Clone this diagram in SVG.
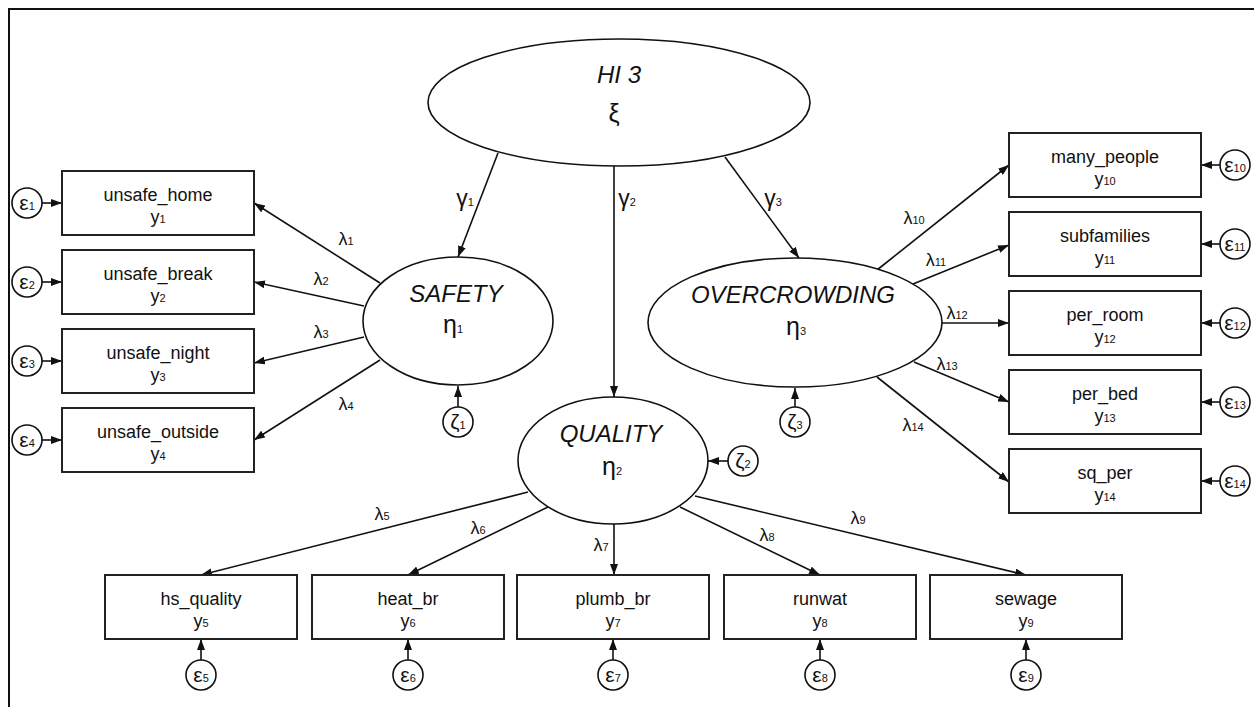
<svg xmlns="http://www.w3.org/2000/svg" width="1254" height="707" viewBox="0 0 1254 707">
<style>
text{font-family:"Liberation Sans",Arial,sans-serif;fill:#111;text-anchor:middle}
.box{fill:#fff;stroke:#222;stroke-width:2}
.lat{fill:#fff;stroke:#111;stroke-width:1.6}
.err{fill:#fff;stroke:#111;stroke-width:1.6}
.nm{font-size:18px}
.sy{font-size:18px}
.sub{font-size:11px}
.big{font-size:24px;font-style:italic}
.gr{font-size:25px}
.lam{font-size:18px}
.gam{font-size:23px}
.eps{font-size:21px}
#conn line{stroke:#111;stroke-width:1.6;marker-end:url(#ah)}
</style>
<defs>
<marker id="ah" markerUnits="userSpaceOnUse" markerWidth="12" markerHeight="8" refX="11" refY="4" orient="auto">
<path d="M0,0 L11,4 L0,8 Z" fill="#111"/>
</marker>
</defs>
<rect width="1254" height="707" fill="#fff"/>
<path d="M9,707 V9 H1254" fill="none" stroke="#111" stroke-width="2"/>

<g id="conn">
<line x1="498" y1="153" x2="458" y2="257"/>
<line x1="614" y1="166" x2="614" y2="397"/>
<line x1="725" y1="157" x2="799" y2="258"/>
<line x1="380" y1="283" x2="254" y2="203"/>
<line x1="364" y1="306" x2="254" y2="282"/>
<line x1="364" y1="337" x2="254" y2="363"/>
<line x1="380" y1="360" x2="254" y2="440"/>
<line x1="528" y1="492" x2="201" y2="575"/>
<line x1="548" y1="507" x2="408" y2="575"/>
<line x1="614" y1="524" x2="614" y2="575"/>
<line x1="680" y1="507" x2="820" y2="575"/>
<line x1="695" y1="496" x2="1026" y2="575"/>
<line x1="877" y1="270" x2="1009" y2="165"/>
<line x1="913" y1="284" x2="1009" y2="245"/>
<line x1="942" y1="323" x2="1009" y2="323"/>
<line x1="914" y1="362" x2="1009" y2="402"/>
<line x1="877" y1="377" x2="1009" y2="482"/>
<line x1="42" y1="203" x2="62" y2="203"/>
<line x1="42" y1="282" x2="62" y2="282"/>
<line x1="42" y1="361" x2="62" y2="361"/>
<line x1="42" y1="440" x2="62" y2="440"/>
<line x1="1220" y1="165" x2="1201" y2="165"/>
<line x1="1220" y1="244" x2="1201" y2="244"/>
<line x1="1220" y1="323" x2="1201" y2="323"/>
<line x1="1220" y1="402" x2="1201" y2="402"/>
<line x1="1220" y1="481" x2="1201" y2="481"/>
<line x1="201" y1="660" x2="201" y2="639"/>
<line x1="408" y1="660" x2="408" y2="639"/>
<line x1="613" y1="660" x2="613" y2="639"/>
<line x1="820" y1="660" x2="820" y2="639"/>
<line x1="1026" y1="660" x2="1026" y2="639"/>
<line x1="458" y1="407" x2="458" y2="386"/>
<line x1="795" y1="407" x2="795" y2="388"/>
<line x1="728" y1="461" x2="708" y2="461"/>
</g>

<g id="labels">
<text class="gam" x="465" y="206">γ<tspan class="sub">1</tspan></text>
<text class="gam" x="627" y="206">γ<tspan class="sub">2</tspan></text>
<text class="gam" x="773" y="206">γ<tspan class="sub">3</tspan></text>
<text class="lam" x="346" y="245">λ<tspan class="sub">1</tspan></text>
<text class="lam" x="321" y="285">λ<tspan class="sub">2</tspan></text>
<text class="lam" x="321" y="338">λ<tspan class="sub">3</tspan></text>
<text class="lam" x="346" y="410">λ<tspan class="sub">4</tspan></text>
<text class="lam" x="382" y="520">λ<tspan class="sub">5</tspan></text>
<text class="lam" x="478" y="534">λ<tspan class="sub">6</tspan></text>
<text class="lam" x="601" y="551">λ<tspan class="sub">7</tspan></text>
<text class="lam" x="767" y="541">λ<tspan class="sub">8</tspan></text>
<text class="lam" x="858" y="524">λ<tspan class="sub">9</tspan></text>
<text class="lam" x="914" y="224">λ<tspan class="sub">10</tspan></text>
<text class="lam" x="936" y="266">λ<tspan class="sub">11</tspan></text>
<text class="lam" x="957" y="319">λ<tspan class="sub">12</tspan></text>
<text class="lam" x="947" y="370">λ<tspan class="sub">13</tspan></text>
<text class="lam" x="913" y="431">λ<tspan class="sub">14</tspan></text>
</g>

<g id="HI3">
<ellipse class="lat" cx="619" cy="102.5" rx="191" ry="63.5"/>
<text class="big" x="619" y="83">HI 3</text>
<text class="gr" x="614" y="122">ξ</text>
</g>
<g id="SAFETY">
<ellipse class="lat" cx="458" cy="321" rx="95" ry="64"/>
<text class="big" x="456" y="302">SAFETY</text>
<text class="gr" x="453" y="333">η<tspan class="sub">1</tspan></text>
</g>
<g id="QUALITY">
<ellipse class="lat" cx="613" cy="460.5" rx="95" ry="63.5"/>
<text class="big" x="611" y="442">QUALITY</text>
<text class="gr" x="612" y="475">η<tspan class="sub">2</tspan></text>
</g>
<g id="OVERCROWDING">
<ellipse class="lat" cx="795" cy="322.5" rx="147" ry="64.5"/>
<text class="big" x="793" y="303">OVERCROWDING</text>
<text class="gr" x="796" y="335">η<tspan class="sub">3</tspan></text>
</g>

<g id="zeta1"><circle class="err" cx="458" cy="422" r="15"/><text class="eps" x="458" y="429">ζ<tspan class="sub">1</tspan></text></g>
<g id="zeta2"><circle class="err" cx="743" cy="461" r="15"/><text class="eps" x="743" y="468">ζ<tspan class="sub">2</tspan></text></g>
<g id="zeta3"><circle class="err" cx="795" cy="422" r="15"/><text class="eps" x="795" y="429">ζ<tspan class="sub">3</tspan></text></g>

<g id="y1"><rect class="box" x="62" y="171" width="192" height="64"/><text class="nm" x="158" y="201">unsafe_home</text><text class="sy" x="158" y="223">y<tspan class="sub">1</tspan></text></g>
<g id="y2"><rect class="box" x="62" y="250" width="192" height="64"/><text class="nm" x="158" y="280">unsafe_break</text><text class="sy" x="158" y="302">y<tspan class="sub">2</tspan></text></g>
<g id="y3"><rect class="box" x="62" y="329" width="192" height="64"/><text class="nm" x="158" y="359">unsafe_night</text><text class="sy" x="158" y="381">y<tspan class="sub">3</tspan></text></g>
<g id="y4"><rect class="box" x="62" y="408" width="192" height="64"/><text class="nm" x="158" y="438">unsafe_outside</text><text class="sy" x="158" y="460">y<tspan class="sub">4</tspan></text></g>

<g id="y5"><rect class="box" x="105" y="575" width="192" height="64"/><text class="nm" x="201" y="605">hs_quality</text><text class="sy" x="201" y="627">y<tspan class="sub">5</tspan></text></g>
<g id="y6"><rect class="box" x="312" y="575" width="192" height="64"/><text class="nm" x="408" y="605">heat_br</text><text class="sy" x="408" y="627">y<tspan class="sub">6</tspan></text></g>
<g id="y7"><rect class="box" x="517" y="575" width="192" height="64"/><text class="nm" x="613" y="605">plumb_br</text><text class="sy" x="613" y="627">y<tspan class="sub">7</tspan></text></g>
<g id="y8"><rect class="box" x="724" y="575" width="192" height="64"/><text class="nm" x="820" y="605">runwat</text><text class="sy" x="820" y="627">y<tspan class="sub">8</tspan></text></g>
<g id="y9"><rect class="box" x="930" y="575" width="192" height="64"/><text class="nm" x="1026" y="605">sewage</text><text class="sy" x="1026" y="627">y<tspan class="sub">9</tspan></text></g>

<g id="y10"><rect class="box" x="1009" y="133" width="192" height="64"/><text class="nm" x="1105" y="163">many_people</text><text class="sy" x="1105" y="185">y<tspan class="sub">10</tspan></text></g>
<g id="y11"><rect class="box" x="1009" y="212" width="192" height="64"/><text class="nm" x="1105" y="242">subfamilies</text><text class="sy" x="1105" y="264">y<tspan class="sub">11</tspan></text></g>
<g id="y12"><rect class="box" x="1009" y="291" width="192" height="64"/><text class="nm" x="1105" y="321">per_room</text><text class="sy" x="1105" y="343">y<tspan class="sub">12</tspan></text></g>
<g id="y13"><rect class="box" x="1009" y="370" width="192" height="64"/><text class="nm" x="1105" y="400">per_bed</text><text class="sy" x="1105" y="422">y<tspan class="sub">13</tspan></text></g>
<g id="y14"><rect class="box" x="1009" y="449" width="192" height="64"/><text class="nm" x="1105" y="479">sq_per</text><text class="sy" x="1105" y="501">y<tspan class="sub">14</tspan></text></g>

<g id="e1"><circle class="err" cx="27" cy="203" r="15"/><text class="eps" x="27" y="210">ε<tspan class="sub">1</tspan></text></g>
<g id="e2"><circle class="err" cx="27" cy="282" r="15"/><text class="eps" x="27" y="289">ε<tspan class="sub">2</tspan></text></g>
<g id="e3"><circle class="err" cx="27" cy="361" r="15"/><text class="eps" x="27" y="368">ε<tspan class="sub">3</tspan></text></g>
<g id="e4"><circle class="err" cx="27" cy="440" r="15"/><text class="eps" x="27" y="447">ε<tspan class="sub">4</tspan></text></g>
<g id="e5"><circle class="err" cx="201" cy="675" r="15"/><text class="eps" x="201" y="682">ε<tspan class="sub">5</tspan></text></g>
<g id="e6"><circle class="err" cx="408" cy="675" r="15"/><text class="eps" x="408" y="682">ε<tspan class="sub">6</tspan></text></g>
<g id="e7"><circle class="err" cx="613" cy="675" r="15"/><text class="eps" x="613" y="682">ε<tspan class="sub">7</tspan></text></g>
<g id="e8"><circle class="err" cx="820" cy="675" r="15"/><text class="eps" x="820" y="682">ε<tspan class="sub">8</tspan></text></g>
<g id="e9"><circle class="err" cx="1026" cy="675" r="15"/><text class="eps" x="1026" y="682">ε<tspan class="sub">9</tspan></text></g>
<g id="e10"><circle class="err" cx="1235" cy="165" r="15"/><text class="eps" x="1235" y="172">ε<tspan class="sub">10</tspan></text></g>
<g id="e11"><circle class="err" cx="1235" cy="244" r="15"/><text class="eps" x="1235" y="251">ε<tspan class="sub">11</tspan></text></g>
<g id="e12"><circle class="err" cx="1235" cy="323" r="15"/><text class="eps" x="1235" y="330">ε<tspan class="sub">12</tspan></text></g>
<g id="e13"><circle class="err" cx="1235" cy="402" r="15"/><text class="eps" x="1235" y="409">ε<tspan class="sub">13</tspan></text></g>
<g id="e14"><circle class="err" cx="1235" cy="481" r="15"/><text class="eps" x="1235" y="488">ε<tspan class="sub">14</tspan></text></g>
</svg>
